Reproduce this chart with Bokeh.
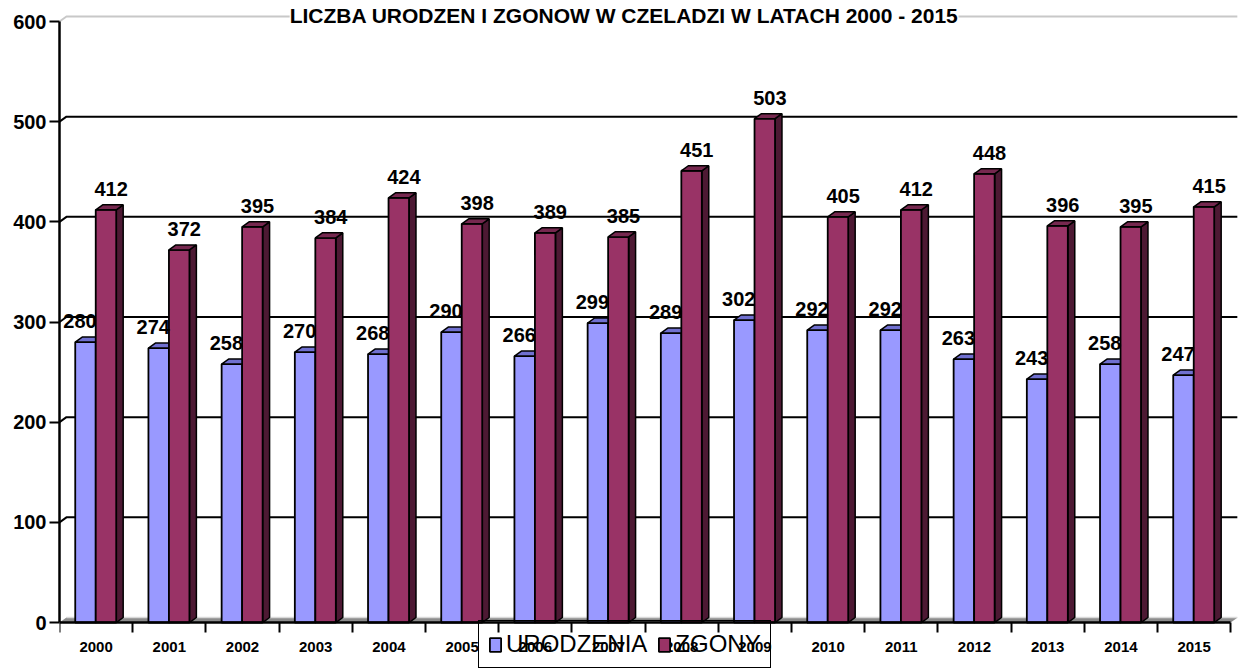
from bokeh.plotting import figure
from bokeh.models import Range1d, FixedTicker, Legend, LegendItem, Label
from bokeh.embed import file_html
from bokeh.resources import INLINE
from bokeh.core.properties import value

# ---------------- data ----------------
years = ["2000", "2001", "2002", "2003", "2004", "2005", "2006", "2007",
         "2008", "2009", "2010", "2011", "2012", "2013", "2014", "2015"]
urodzenia = [280, 274, 258, 270, 268, 290, 266, 299, 289, 302, 292, 292, 263, 243, 258, 247]
zgony = [412, 372, 395, 384, 424, 398, 389, 385, 451, 503, 405, 412, 448, 396, 395, 415]
y_ticks = [0, 100, 200, 300, 400, 500, 600]
series_names = ["URODZENIA", "ZGONY"]
title_text = "LICZBA URODZEŃ I ZGONÓW W CZELADZI W LATACH 2000 - 2015"

# ---------------- style ----------------
FONT = value("Liberation Sans")
BAR_W = 0.28
OFF_BLUE = -0.145
OFF_RED = 0.135
DX = 0.095       # 3D depth, x (category units)
DY = 5           # 3D depth, y (value units)
LABEL_GAP = 21
LBL_DX_BLUE = -0.22
LBL_DX_RED = 0.205

BLUE = "#9999ff"; BLUE_TOP = "#7070d0"; BLUE_SIDE = "#4d4d80"
RED = "#993366"; RED_TOP = "#76284f"; RED_SIDE = "#4d1933"

n = len(years)
pos = list(range(n))

p = figure(width=1241, height=670,
           x_range=Range1d(-0.5, n - 0.5 + 0.093), y_range=Range1d(-47.9, 613),
           output_backend="svg", toolbar_location=None,
           min_border_left=59, min_border_right=4, min_border_top=8, min_border_bottom=0)
p.outline_line_color = None
p.xgrid.visible = False
p.ygrid.visible = False
p.background_fill_color = "white"

# floor
p.patch(x=[-0.5, -0.5 + DX, n - 0.5 + DX, n - 0.5], y=[0, DY, DY, 0],
        fill_color="#8c8c8c", line_color=None)
p.line(x=[-0.5 + DX, n - 0.5 + DX], y=[DY, DY], line_color="#d9d9d9", line_width=1.5)

# back-wall gridlines
gx, gy, gc = [], [], []
for t in y_ticks[1:]:
    gx.append([-0.5, -0.5 + DX, n - 0.5 + DX])
    gy.append([t, t + DY, t + DY])
    gc.append("#c8c8c8" if t == y_ticks[-1] else "black")
p.multi_line(xs=gx, ys=gy, line_color=gc, line_width=2)


def bar3d(values, off, front, top, side):
    x0 = [i + off - BAR_W / 2 for i in pos]
    x1 = [i + off + BAR_W / 2 for i in pos]
    sx = [[a, a + DX, a + DX, a] for a in x1]
    sy = [[0, DY, v + DY, v] for v in values]
    p.patches(xs=sx, ys=sy, fill_color=side, line_color="black", line_width=1.5)
    r = p.vbar(x=[i + off for i in pos], width=BAR_W, top=values, bottom=0,
               fill_color=front, line_color="black", line_width=1.8)
    tx = [[a, a + DX, b + DX, b] for a, b in zip(x0, x1)]
    ty = [[v, v + DY, v + DY, v] for v in values]
    p.patches(xs=tx, ys=ty, fill_color=top, line_color="black", line_width=1.5)
    return r


r_blue = bar3d(urodzenia, OFF_BLUE, BLUE, BLUE_TOP, BLUE_SIDE)
r_red = bar3d(zgony, OFF_RED, RED, RED_TOP, RED_SIDE)

# data labels
for vals, dx in ((urodzenia, LBL_DX_BLUE), (zgony, LBL_DX_RED)):
    p.text(x=[i + dx for i in pos], y=[v + LABEL_GAP for v in vals],
           text=[str(v) for v in vals], text_font=FONT, text_font_style="bold",
           text_font_size="20px", text_align="center", text_baseline="middle",
           text_color="black")

# axes
ya = p.yaxis[0]
ya.ticker = FixedTicker(ticks=y_ticks)
ya.bounds = (y_ticks[0], y_ticks[-1])
ya.axis_line_width = 2.5
ya.axis_line_color = "black"
ya.major_tick_out = 10
ya.major_tick_in = 0
ya.major_tick_line_width = 2
ya.major_tick_line_color = "black"
ya.minor_tick_line_color = None
ya.major_label_text_font = "Liberation Sans"
ya.major_label_text_font_style = "bold"
ya.major_label_text_font_size = "20px"
ya.major_label_text_color = "black"
ya.major_label_standoff = 3

xa = p.xaxis[0]
xa.fixed_location = 0
xa.ticker = FixedTicker(ticks=pos, minor_ticks=[i - 0.5 for i in range(n + 1)])
xa.major_label_overrides = {i: y for i, y in zip(pos, years)}
xa.bounds = (-0.5, n - 0.5)
xa.axis_line_width = 2.5
xa.axis_line_color = "black"
xa.major_tick_line_color = None
xa.major_tick_out = 0
xa.major_tick_in = 0
xa.minor_tick_out = 10
xa.minor_tick_in = 0
xa.minor_tick_line_width = 2
xa.minor_tick_line_color = "black"
xa.major_label_text_font = "Liberation Sans"
xa.major_label_text_font_style = "bold"
xa.major_label_text_font_size = "15px"
xa.major_label_text_color = "black"
xa.major_label_standoff = 9

# title
p.add_layout(Label(x=(n - 1) / 2, y=606, x_offset=-21, text=title_text,
                   text_font="Liberation Sans", text_font_style="bold",
                   text_font_size="21px", text_align="center", text_baseline="middle",
                   text_color="black", background_fill_color="white"))

# legend
legend = Legend(items=[LegendItem(label=series_names[0], renderers=[r_blue]),
                       LegendItem(label=series_names[1], renderers=[r_red])],
                orientation="horizontal", location=(419, 2),
                label_text_font="Liberation Sans", label_text_font_size="24px",
                label_text_color="black",
                glyph_width=14, glyph_height=17, label_standoff=4, spacing=10,
                padding=9, margin=0, border_line_color="black", border_line_alpha=1.0,
                border_line_width=1.5, background_fill_alpha=0)
p.add_layout(legend, "center")

open("out.html", "w").write(file_html(p, INLINE))
